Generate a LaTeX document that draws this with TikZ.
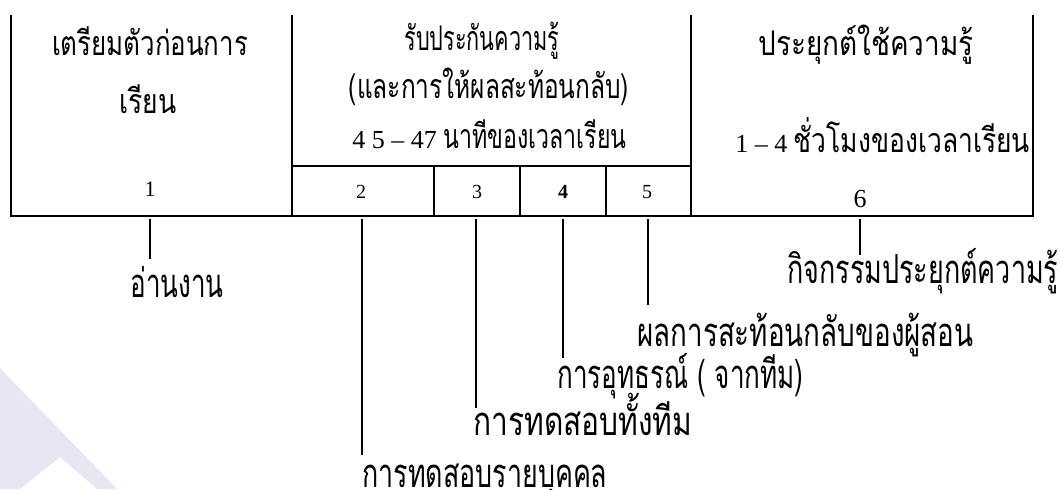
\documentclass[tikz,border=0pt]{standalone}
\usepackage{graphicx}
\usepackage{fontspec}
\setmainfont{Liberation Serif}
\newfontfamily\thaifont[Script=Thai]{Loma}
\definecolor{wmark}{RGB}{233,229,242}
\newdimen\unitpx \unitpx=0.5pt
\newcommand{\fitto}[2]{\resizebox{#1\unitpx}{\height}{#2}}

\begin{document}
\begin{tikzpicture}[x=0.5pt,y=-0.5pt,
  boxline/.style={line width=1.1pt},
  leader/.style={line width=0.6pt},
  head/.style={font=\thaifont\fontsize{17}{20}\selectfont,inner sep=0pt,anchor=base},
  timing/.style={font=\fontsize{13}{15}\selectfont,inner sep=0pt,anchor=base west},
  num/.style={font=\fontsize{10}{12}\selectfont,inner sep=0pt,anchor=base},
  tag/.style={font=\thaifont\fontsize{20}{24}\selectfont,inner sep=0pt,anchor=base west}]
\useasboundingbox (0,0) rectangle (1061,489);
\fill[wmark] (0,368) -- (117,489) -- (97,489) -- (60,457) -- (20,489) -- (0,489) -- cycle;

\draw[boxline] (11,15) -- (11,216) -- (1033,216) -- (1033,15);
\foreach \x in {292,691} \draw[boxline] (\x,15) -- (\x,216);
\draw[boxline] (292,166) -- (691,166);
\foreach \x in {434,520,606} \draw[boxline] (\x,166) -- (\x,216);

\node[head] (prep1) at (150,55) {\fitto{196}{เตรียมตัวก่อนการ}};
\node[head] (prep2) at (148,113) {\fitto{57}{เรียน}};
\node[head] (rat1) at (482,50) {\fitto{155}{รับประกันความรู้}};
\node[head] (rat2) at (489,98) {\fitto{280}{(และการให้ผลสะท้อนกลับ)}};
\node[timing] (rat3) at (352,148) {4 5 -- 47\ {\thaifont\fontsize{17}{20}\selectfont\fitto{183}{นาทีของเวลาเรียน}}};
\node[head] (app1) at (866,55) {\fitto{215}{ประยุกต์ใช้ความรู้}};
\node[timing] (app2) at (735,152) {1 -- 4 {\thaifont\fontsize{17}{20}\selectfont\fitto{236}{ชั่วโมงของเวลาเรียน}}};

\node[num,font=\fontsize{11}{13}\selectfont] (n1) at (150,196) {1};
\node[num] (n2) at (361,198) {2};
\node[num] (n3) at (477,198) {3};
\node[num,font=\bfseries\fontsize{10}{12}\selectfont] (n4) at (563,198) {4};
\node[num] (n5) at (647,198) {5};
\node[num,font=\fontsize{13}{15}\selectfont] (n6) at (860,207) {6};

\node[tag] (t1) at (130,297) {\fitto{93}{อ่านงาน}};
\node[tag] (t2) at (362,487) {\fitto{245}{การทดสอบรายบุคคล}};
\node[tag] (t3) at (473,435) {\fitto{219}{การทดสอบทั้งทีม}};
\node[tag] (t4) at (557,388) {\fitto{246}{การอุทธรณ์ ( จากทีม)}};
\node[tag] (t5) at (637,346) {\fitto{336}{ผลการสะท้อนกลับของผู้สอน}};
\node[tag] (t6) at (787,283) {\fitto{271}{กิจกรรมประยุกต์ความรู้}};

\foreach \i/\x/\y in {1/150/259,2/362/455,3/476/408,4/563/358,5/648/305,6/860/255}
{
  \coordinate (b\i) at (\x,219);
  \coordinate (e\i) at (\x,\y);
  \draw[leader] (b\i) -- (e\i);
}
\end{tikzpicture}
\end{document}
